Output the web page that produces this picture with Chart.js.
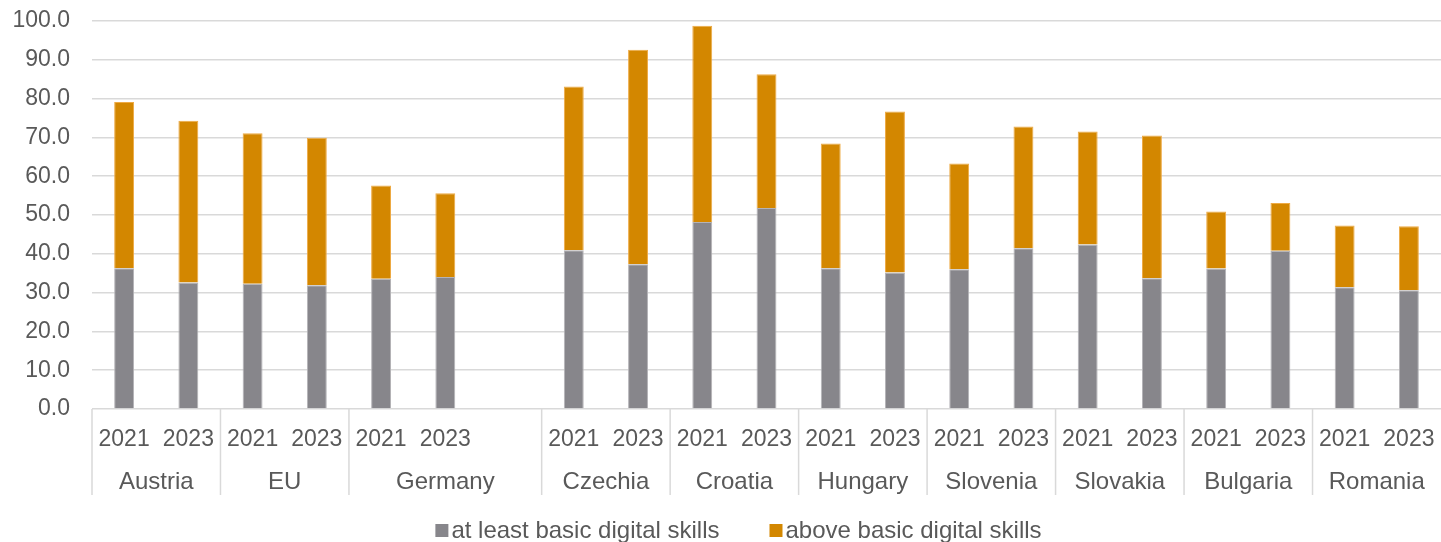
<!DOCTYPE html>
<html lang="en">
  <head>
    <meta charset="UTF-8" />
    <title>Digital skills 2021 / 2023</title>
    <script src="https://cdn.jsdelivr.net/npm/chart.js"></script>
    <style>
      body { margin: 0; background: #ffffff; }
      canvas { display: block; }
    </style>
  </head>
  <body>
    <canvas id="skillsChart" width="1441" height="542"></canvas>

    <script>
      // countries and how many year slots each one takes (Germany has a spare slot)
      var countries = ["Austria", "EU", "Germany", "Czechia", "Croatia", "Hungary", "Slovenia", "Slovakia", "Bulgaria", "Romania"];
      var groupSizes = [2, 2, 3, 2, 2, 2, 2, 2, 2, 2];

      var years = ["2021", "2023", "2021", "2023", "2021", "2023", "",
                   "2021", "2023", "2021", "2023", "2021", "2023", "2021", "2023",
                   "2021", "2023", "2021", "2023", "2021", "2023"];

      var basicSkills = [36.3, 32.6, 32.3, 31.9, 33.6, 34.0, null,
                         40.9, 37.3, 48.2, 51.8, 36.3, 35.2, 36.0, 41.4,
                         42.4, 33.7, 36.2, 40.8, 31.4, 30.6];

      var aboveBasic = [42.8, 41.7, 38.8, 38.0, 24.0, 21.6, null,
                        42.2, 55.3, 50.6, 34.5, 32.1, 41.5, 27.3, 31.4,
                        29.1, 36.8, 14.7, 12.3, 15.9, 16.5];

      var yTicks = [0, 10, 20, 30, 40, 50, 60, 70, 80, 90, 100];

      var textColor = "#595959";
      var gridColor = "#d9d9d9";
      var fontFamily = "'Liberation Sans', Arial, sans-serif";

      var canvasHeight = 542;
      var plotBottom = 409;

      // second row of the x axis: country names with separators
      var countryAxis = {
        id: "countryAxis",
        afterDraw: function (chart) {
          var ctx = chart.ctx;
          var x = chart.scales.x;
          var bottom = chart.chartArea.bottom;
          var slot = x.getPixelForValue(1) - x.getPixelForValue(0);
          var start = 0;
          ctx.save();
          ctx.strokeStyle = gridColor;
          ctx.lineWidth = 1.5;
          ctx.fillStyle = textColor;
          ctx.font = "24px " + fontFamily;
          ctx.textAlign = "center";
          ctx.textBaseline = "alphabetic";
          for (var i = 0; i < countries.length; i++) {
            var end = start + groupSizes[i] - 1;
            var left = x.getPixelForValue(start) - slot / 2;
            var right = x.getPixelForValue(end) + slot / 2;
            ctx.beginPath();
            ctx.moveTo(left, bottom);
            ctx.lineTo(left, bottom + 86);
            ctx.stroke();
            ctx.fillText(countries[i], (left + right) / 2, bottom + 80);
            start = end + 1;
          }
          ctx.restore();
        }
      };

      // legend row under the axis: square swatch, short gap, label
      var legendRow = {
        id: "legendRow",
        afterDraw: function (chart) {
          var ctx = chart.ctx;
          var sets = chart.data.datasets;
          var box = 13, gap = 3, itemGap = 50, baseline = 538;
          ctx.save();
          ctx.font = "24px " + fontFamily;
          ctx.textBaseline = "alphabetic";
          var widths = sets.map(function (ds) { return ctx.measureText(ds.label).width; });
          var total = 0;
          widths.forEach(function (w, i) { total += box + gap + w + (i ? itemGap : 0); });
          var cx = 738.5 - total / 2;
          sets.forEach(function (ds, i) {
            ctx.fillStyle = ds.backgroundColor;
            ctx.fillRect(cx, baseline - 14, box, box);
            ctx.fillStyle = textColor;
            ctx.fillText(ds.label, cx + box + gap, baseline);
            cx += box + gap + widths[i] + itemGap;
          });
          ctx.restore();
        }
      };

      var ctx = document.getElementById("skillsChart").getContext("2d");

      var chart = new Chart(ctx, {
        type: "bar",
        data: {
          labels: years,
          datasets: [
            {
              label: "at least basic digital skills",
              data: basicSkills,
              backgroundColor: "#87868b",
              borderColor: "#b4b3b7",
              borderWidth: 1,
            },
            {
              label: "above basic digital skills",
              data: aboveBasic,
              backgroundColor: "#d38700",
              borderColor: "#eeaa44",
              borderWidth: 1,
            },
          ],
        },
        options: {
          responsive: false,
          animation: false,
          layout: { padding: { top: 21, right: 0, left: 0, bottom: 0 } },
          datasets: {
            bar: { barPercentage: 0.31, categoryPercentage: 1.0 },
          },
          scales: {
            x: {
              stacked: true,
              grid: { display: false, drawTicks: false },
              border: { display: false },
              ticks: {
                color: textColor,
                font: { family: fontFamily, size: 23 },
                padding: 17,
                maxRotation: 0,
                autoSkip: false,
              },
              afterFit: function (scale) {
                scale.paddingLeft = 0;
                scale.paddingRight = 0;
                scale.height = canvasHeight - plotBottom;
              },
            },
            y: {
              stacked: true,
              min: 0,
              max: 100,
              afterBuildTicks: function (scale) {
                scale.ticks = yTicks.map(function (v) { return { value: v }; });
              },
              grid: { color: gridColor, lineWidth: 1.5, drawTicks: false },
              border: { display: false },
              ticks: {
                color: textColor,
                font: { family: fontFamily, size: 23 },
                padding: 22,
                callback: function (value) {
                  return value.toFixed(1);
                },
              },
              afterFit: function (scale) {
                scale.width = 92;
                scale.paddingTop = 0;
                scale.paddingBottom = 0;
              },
            },
          },
          plugins: {
            legend: { display: false },
            tooltip: { enabled: false },
          },
        },
        plugins: [countryAxis, legendRow],
      });
    </script>
  </body>
</html>
